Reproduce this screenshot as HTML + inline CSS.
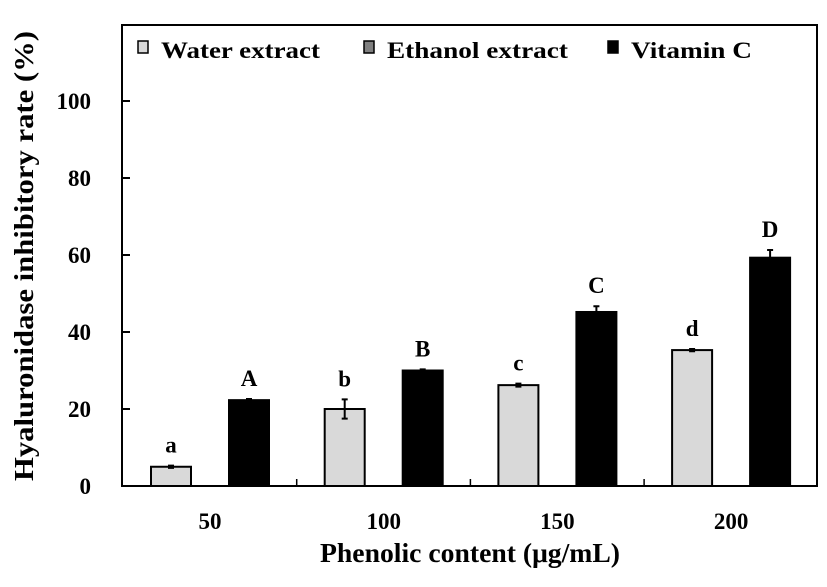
<!DOCTYPE html>
<html><head><meta charset="utf-8"><style>
html,body{margin:0;padding:0;background:#fff;}
svg{display:block;font-family:"Liberation Serif",serif;font-weight:bold;}
</style></head><body>
<svg id="chart" width="827" height="587">
<rect x="122" y="25" width="695" height="461" fill="none" stroke="#000" stroke-width="2"/>
<g id="yaxis"></g>
<g id="xaxis"></g>
<g id="bars"></g>
<text x="33" y="256" transform="rotate(-90 33 256)" text-anchor="middle" font-size="27" textLength="450" lengthAdjust="spacingAndGlyphs">Hyaluronidase inhibitory rate (%)</text>
<text x="470" y="562" text-anchor="middle" font-size="27" textLength="300" lengthAdjust="spacingAndGlyphs">Phenolic content (μg/mL)</text>
<g>
<g><rect x="138" y="41" width="10" height="12" fill="#d9d9d9" stroke="#000" stroke-width="1.5"/><text x="161" y="58" font-size="23" textLength="159" lengthAdjust="spacingAndGlyphs">Water extract</text></g>
<g><rect x="364" y="41" width="10" height="12" fill="#808080" stroke="#000" stroke-width="1.5"/><text x="387" y="58" font-size="23" textLength="181" lengthAdjust="spacingAndGlyphs">Ethanol extract</text></g>
<g><rect x="608" y="41" width="10" height="12" fill="#000" stroke="#000" stroke-width="1.5"/><text x="631" y="58" font-size="23" textLength="121" lengthAdjust="spacingAndGlyphs">Vitamin C</text></g>
</g>
</svg>
<script>
const categories = ["50","100","150","200"];
const waterValues = [5, 20, 26.2, 35.3];
const waterErrors = [0.3, 2.5, 0.4, 0.3];
const waterLetters = ["a","b","c","d"];
const vitcValues = [22.3, 30, 45.2, 59.3];
const vitcErrors = [0.3, 0.3, 1.5, 2];
const vitcLetters = ["A","B","C","D"];
const yTicks = [0,20,40,60,80,100];

const NS="http://www.w3.org/2000/svg";
const y = v => 486 - v*3.85;
const band = i => 123 + i*173.7;
function mk(tag, attrs, parent){const e=document.createElementNS(NS,tag);for(const k in attrs)e.setAttribute(k,attrs[k]);parent.appendChild(e);return e;}
const ya=document.getElementById('yaxis'), xa=document.getElementById('xaxis'), bars=document.getElementById('bars');
yTicks.forEach(t=>{
  const l=mk('line',{x1:122,x2:130,y1:y(t),y2:y(t),stroke:'#000','stroke-width':2},ya);
  
  
  const tx=mk('text',{x:91,y:y(t)+8,'text-anchor':'end','font-size':23},ya);
  tx.textContent=t;
  
  
});
categories.forEach((c,i)=>{
  if(i>0){const l=mk('line',{x1:band(i),x2:band(i),y1:486,y2:479,stroke:'#000','stroke-width':1.5},xa);
  
  }
  const tx=mk('text',{x:band(i)+87,y:529,'text-anchor':'middle','font-size':23},xa);
  tx.textContent=c;
  
  
  const series=[[waterValues,waterErrors,waterLetters,28,'#d9d9d9','water'],[vitcValues,vitcErrors,vitcLetters,106,'#000','vitamin-c']];
  series.forEach(s=>{
    const v=s[0][i], e=s[1][i], x0=band(i)+s[3];
    const r=mk('rect',{x:x0,y:y(v),width:40,height:486-y(v),fill:s[4],stroke:'#000','stroke-width':2},bars);
    
    
    const cx=x0+20;
    const eb=mk('path',{d:`M${cx},${y(v+e)}V${y(v-e)}M${cx-3},${y(v+e)}H${cx+3}M${cx-3},${y(v-e)}H${cx+3}`,stroke:'#000','stroke-width':2,fill:'none'},bars);
    
    
    const lt=mk('text',{x:cx,y:y(v+e)-13,'text-anchor':'middle','font-size':23},bars);
    lt.textContent=s[2][i];
    
    
  });
});
</script>
</body></html>
